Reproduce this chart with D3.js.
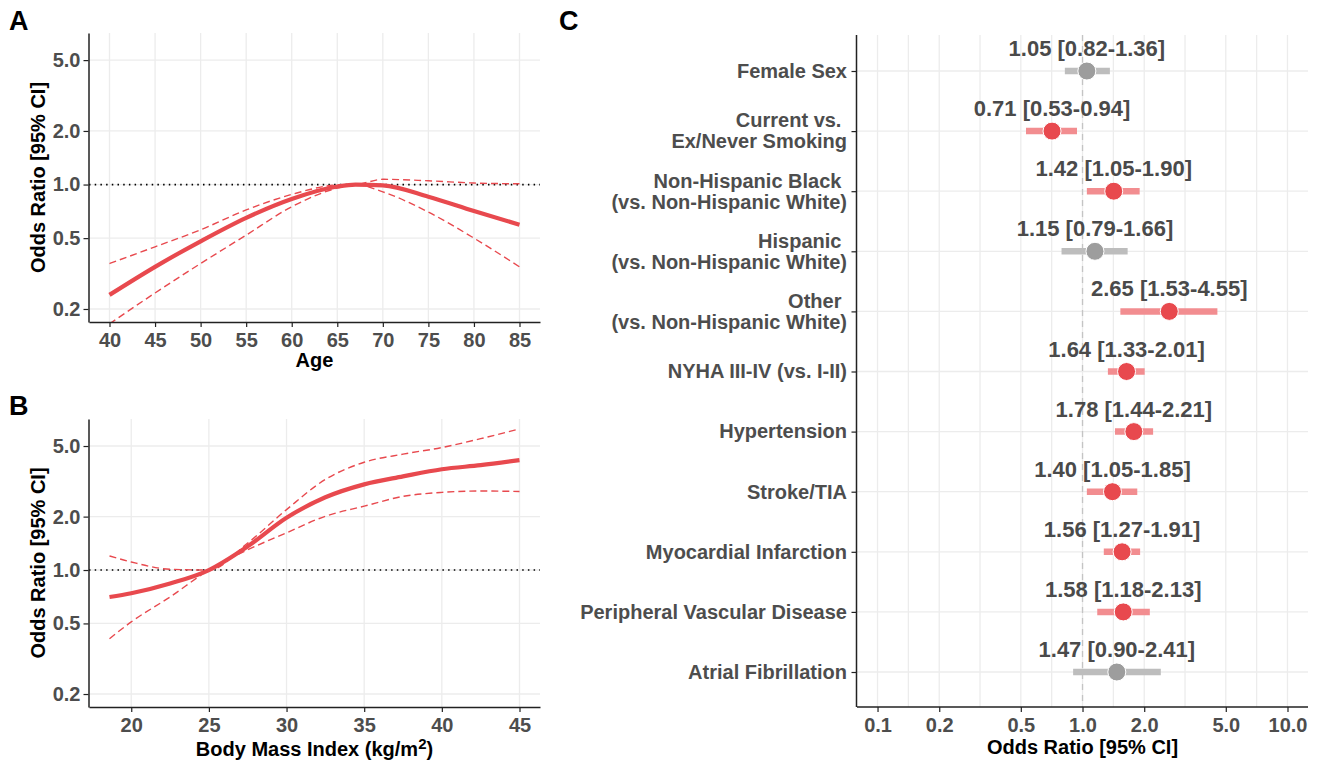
<!DOCTYPE html>
<html>
<head>
<meta charset="utf-8">
<script src="https://cdn.jsdelivr.net/npm/d3@7"></script>
<style>
  body { margin: 0; background: #ffffff; }
  text { font-family: "Liberation Sans", Arial, sans-serif; font-weight: bold; }
</style>
</head>
<body>
<svg id="fig" width="1320" height="762"></svg>
<script>
// Panel A - age spline
var ageX     = [40, 45, 50, 55, 60, 65, 67, 70, 75, 80, 85];
var ageOR    = [0.24, 0.345, 0.48, 0.65, 0.83, 0.975, 1.0, 0.99, 0.855, 0.71, 0.595];
var ageUpper = [0.36, 0.447, 0.557, 0.72, 0.88, 0.995, 1.0, 1.07, 1.05, 1.02, 1.01];
var ageLower = [0.165, 0.246, 0.36, 0.52, 0.75, 0.955, 1.0, 0.91, 0.70, 0.50, 0.345];
var ageTicks = [40, 45, 50, 55, 60, 65, 70, 75, 80, 85];

// Panel B - BMI spline
var bmiX     = [18.6, 20, 22.5, 25, 27.5, 30, 32.5, 35, 37.5, 40, 42.5, 45];
var bmiOR    = [0.705, 0.74, 0.84, 1.0, 1.36, 1.97, 2.57, 3.04, 3.37, 3.7, 3.9, 4.16];
var bmiUpper = [1.2, 1.11, 1.01, 1.0, 1.42, 2.19, 3.24, 4.05, 4.5, 4.9, 5.5, 6.24];
var bmiLower = [0.41, 0.51, 0.705, 1.0, 1.30, 1.62, 2.01, 2.29, 2.6, 2.74, 2.79, 2.77];
var bmiTicks = [20, 25, 30, 35, 40, 45];

var orTicks = [0.2, 0.5, 1, 2, 5];

// Panel C - forest plot
var factors = [
  ["Female Sex"],
  ["Current vs. ", "Ex/Never Smoking"],
  ["Non-Hispanic Black ", "(vs. Non-Hispanic White)"],
  ["Hispanic ", "(vs. Non-Hispanic White)"],
  ["Other ", "(vs. Non-Hispanic White)"],
  ["NYHA III-IV (vs. I-II)"],
  ["Hypertension"],
  ["Stroke/TIA"],
  ["Myocardial Infarction"],
  ["Peripheral Vascular Disease"],
  ["Atrial Fibrillation"]
];
var estimates = [1.05, 0.71, 1.42, 1.15, 2.65, 1.64, 1.78, 1.40, 1.56, 1.58, 1.47];
var lowerCI   = [0.82, 0.53, 1.05, 0.79, 1.53, 1.33, 1.44, 1.05, 1.27, 1.18, 0.90];
var upperCI   = [1.36, 0.94, 1.90, 1.66, 4.55, 2.01, 2.21, 1.85, 1.91, 2.13, 2.41];
var forestTicks = [0.1, 0.2, 0.5, 1, 2, 5, 10];

var red = "#e8494e", redLight = "#f28d90";
var grey = "#9d9d9d", greyLight = "#bdbdbd";
var gridCol = "#ececec", axisCol = "#222222", tickText = "#4d4d4d";
var fs = "20px";

var svg = d3.select("#fig");
svg.append("rect").attr("width", 1320).attr("height", 762).attr("fill", "#ffffff");

// panel letters
[["A", 9, 30], ["B", 9, 415], ["C", 559, 30]].forEach(function(p) {
  svg.append("text").attr("x", p[1]).attr("y", p[2])
    .style("font-size", "27px").style("fill", "#000").text(p[0]);
});

function splinePanel(id, xs, est, up, lo, xTicks, xDomain, top, bottom, xTitle) {
  var left = 89, right = 540;
  var x = d3.scaleLinear().domain(xDomain).range([left, right]);
  var y = d3.scaleLog().domain([0.169, 7.1]).range([bottom, top]);
  var g = svg.append("g");

  // grid
  g.selectAll(".gx").data(xTicks).enter().append("line")
    .attr("x1", function(d) { return x(d); }).attr("x2", function(d) { return x(d); })
    .attr("y1", top).attr("y2", bottom)
    .attr("stroke", gridCol).attr("stroke-width", 1.3);
  g.selectAll(".gy").data(orTicks).enter().append("line")
    .attr("x1", left).attr("x2", right)
    .attr("y1", function(d) { return y(d); }).attr("y2", function(d) { return y(d); })
    .attr("stroke", gridCol).attr("stroke-width", 1.3);

  // reference line at OR = 1
  g.append("line").attr("x1", left).attr("x2", right)
    .attr("y1", y(1)).attr("y2", y(1))
    .attr("stroke", "#000").attr("stroke-width", 1.7)
    .attr("stroke-dasharray", "1.5,4.2");

  svg.append("clipPath").attr("id", id)
    .append("rect").attr("x", left).attr("y", top)
    .attr("width", right - left).attr("height", bottom - top);

  var line = d3.line()
    .x(function(d) { return x(d[0]); })
    .y(function(d) { return y(d[1]); })
    .curve(d3.curveMonotoneX);

  var curves = g.append("g").attr("clip-path", "url(#" + id + ")");
  [up, lo].forEach(function(arr) {
    curves.append("path").datum(d3.zip(xs, arr)).attr("d", line)
      .attr("fill", "none").attr("stroke", red).attr("stroke-width", 1.4)
      .attr("stroke-dasharray", "7,4");
  });
  curves.append("path").datum(d3.zip(xs, est)).attr("d", line)
    .attr("fill", "none").attr("stroke", red).attr("stroke-width", 4.2);

  // axes
  var ax = g.append("g").attr("transform", "translate(0," + bottom + ")")
    .call(d3.axisBottom(x).tickValues(xTicks).tickSize(5).tickSizeOuter(0).tickPadding(3));
  var ay = g.append("g").attr("transform", "translate(" + (left - 0.5) + ",0)")
    .call(d3.axisLeft(y).tickValues(orTicks).tickFormat(d3.format(".1f")).tickSize(5).tickSizeOuter(0).tickPadding(3));
  [ax, ay].forEach(function(a) {
    a.select(".domain").attr("stroke", axisCol).attr("stroke-width", 1.5);
    a.selectAll(".tick line").attr("stroke", axisCol).attr("stroke-width", 1.2);
    a.selectAll(".tick text").style("font-size", fs).style("fill", tickText)
      .style("font-family", "Liberation Sans, Arial, sans-serif").style("font-weight", "bold");
  });
  ax.selectAll(".tick text").attr("y", 10.5).attr("dy", "0.71em");

  var title = g.append("text").attr("x", (left + right) / 2)
    .attr("text-anchor", "middle").style("font-size", fs).style("fill", "#000");
  if (xTitle === "bmi") {
    title.attr("y", bottom + 49);
    title.append("tspan").text("Body Mass Index (kg/m");
    title.append("tspan").attr("dy", -7).style("font-size", "15px").text("2");
    title.append("tspan").attr("dy", 7).text(")");
  } else {
    title.attr("y", bottom + 45).text(xTitle);
  }
  g.append("text").attr("transform", "translate(45," + (top + bottom) / 2 + ") rotate(-90)")
    .attr("text-anchor", "middle").style("font-size", fs).style("fill", "#000")
    .text("Odds Ratio [95% CI]");
}

splinePanel("clipA", ageX, ageOR, ageUpper, ageLower, ageTicks, [37.75, 87.25], 33, 322, "Age");
splinePanel("clipB", bmiX, bmiOR, bmiUpper, bmiLower, bmiTicks, [17.28, 46.32], 419, 707, "bmi");

// forest plot
(function() {
  var left = 857, right = 1308, top = 35, bottom = 707;
  var x = d3.scaleLog().domain([0.0794, 12.59]).range([left, right]);
  var keys = d3.range(factors.length);
  var y = d3.scalePoint().domain(keys).range([71, 672]);
  var g = svg.append("g");

  var minor = [];
  for (var i = 0; i < forestTicks.length - 1; i++) {
    minor.push(Math.sqrt(forestTicks[i] * forestTicks[i + 1]));
  }
  g.selectAll(".gx").data(forestTicks.concat(minor)).enter().append("line")
    .attr("x1", function(d) { return x(d); }).attr("x2", function(d) { return x(d); })
    .attr("y1", top).attr("y2", bottom)
    .attr("stroke", gridCol).attr("stroke-width", 1.3);
  g.selectAll(".gy").data(keys).enter().append("line")
    .attr("x1", left).attr("x2", right)
    .attr("y1", function(d) { return y(d); }).attr("y2", function(d) { return y(d); })
    .attr("stroke", gridCol).attr("stroke-width", 1.3);

  g.append("line").attr("x1", x(1)).attr("x2", x(1)).attr("y1", top).attr("y2", bottom)
    .attr("stroke", "#c4c4c4").attr("stroke-width", 1.3).attr("stroke-dasharray", "6,5");

  var rows = g.selectAll(".row").data(keys).enter().append("g");
  rows.append("line")
    .attr("x1", function(d) { return x(lowerCI[d]); })
    .attr("x2", function(d) { return x(upperCI[d]); })
    .attr("y1", function(d) { return y(d); }).attr("y2", function(d) { return y(d); })
    .attr("stroke", function(d) { return lowerCI[d] > 1 || upperCI[d] < 1 ? redLight : greyLight; })
    .attr("stroke-width", 6.5);
  rows.append("circle")
    .attr("cx", function(d) { return x(estimates[d]); })
    .attr("cy", function(d) { return y(d); })
    .attr("r", 9)
    .attr("fill", function(d) { return lowerCI[d] > 1 || upperCI[d] < 1 ? red : grey; })
    .attr("stroke", "#ffffff").attr("stroke-width", 1);
  rows.append("text")
    .attr("x", function(d) { return x(estimates[d]); })
    .attr("y", function(d) { return y(d) - 15; })
    .attr("text-anchor", "middle").style("font-size", "22px").style("fill", "#4a4a4a")
    .text(function(d) {
      var f = d3.format(".2f");
      return f(estimates[d]) + " [" + f(lowerCI[d]) + "-" + f(upperCI[d]) + "]";
    });

  var ax = g.append("g").attr("transform", "translate(0," + bottom + ")")
    .call(d3.axisBottom(x).tickValues(forestTicks).tickFormat(d3.format(".1f")).tickSize(5).tickSizeOuter(0).tickPadding(3));
  var ay = g.append("g").attr("transform", "translate(" + (left - 0.5) + ",0)")
    .call(d3.axisLeft(y).tickFormat("").tickSize(5).tickSizeOuter(0));
  ay.select(".domain").attr("d", "M-0," + top + "V" + bottom);
  [ax, ay].forEach(function(a) {
    a.select(".domain").attr("stroke", axisCol).attr("stroke-width", 1.5);
    a.selectAll(".tick line").attr("stroke", axisCol).attr("stroke-width", 1.2);
    a.selectAll(".tick text").style("font-size", fs).style("fill", tickText)
      .style("font-family", "Liberation Sans, Arial, sans-serif").style("font-weight", "bold");
  });
  ax.selectAll(".tick text").attr("y", 10.5).attr("dy", "0.71em");
  ax.select(".domain").attr("d", "M" + left + ",0H" + right);

  // category labels
  keys.forEach(function(k) {
    var lines = factors[k];
    var t = g.append("text").attr("x", left - 10).attr("text-anchor", "end")
      .attr("xml:space", "preserve").style("white-space", "pre")
      .style("font-size", fs).style("fill", tickText);
    lines.forEach(function(s, j) {
      var base = y(k) + 6.8 + (j - (lines.length - 1) / 2) * 21;
      t.append("tspan").attr("x", left - 10).attr("y", base).text(s);
    });
  });

  g.append("text").attr("x", (left + right) / 2).attr("y", 754)
    .attr("text-anchor", "middle").style("font-size", fs).style("fill", "#000")
    .text("Odds Ratio [95% CI]");
})();
</script>
</body>
</html>
